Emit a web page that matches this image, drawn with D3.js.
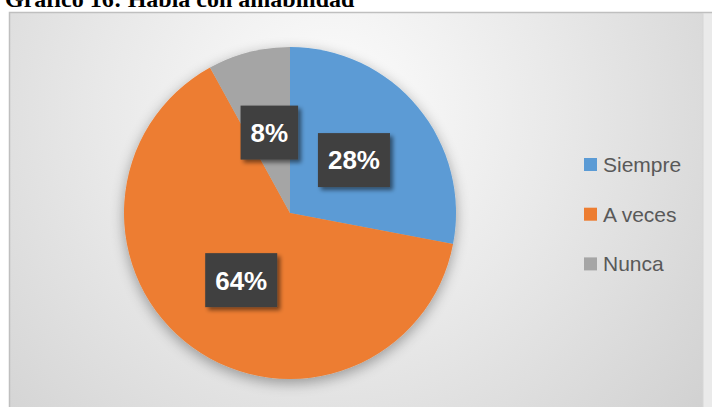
<!DOCTYPE html>
<html>
<head>
<meta charset="utf-8">
<script src="https://cdn.jsdelivr.net/npm/d3@7"></script>
<style>
  body { margin: 0; background: #fff; }
  svg { display: block; }
</style>
</head>
<body>
<svg width="712" height="407"></svg>
<script>
var categories = ['Siempre', 'A veces', 'Nunca'];
var values = [28, 64, 8];
var colors = ['#5B9BD5', '#ED7D31', '#A5A5A5'];
var title = 'Gráfico 16: Habla con amabilidad';

var svg = d3.select('svg');
var defs = svg.append('defs');

var grad = defs.append('radialGradient')
  .attr('id', 'bg')
  .attr('gradientUnits', 'userSpaceOnUse')
  .attr('cx', 330).attr('cy', 110).attr('r', 500);
grad.append('stop').attr('offset', 0).attr('stop-color', '#fdfdfd');
grad.append('stop').attr('offset', 0.45).attr('stop-color', '#e9e9e9');
grad.append('stop').attr('offset', 1).attr('stop-color', '#cfcfcf');

var pieShadow = defs.append('filter').attr('id', 'pieShadow')
  .attr('x', '-20%').attr('y', '-20%').attr('width', '140%').attr('height', '140%');
pieShadow.append('feGaussianBlur').attr('in', 'SourceAlpha').attr('stdDeviation', 7);
pieShadow.append('feOffset').attr('dx', 0).attr('dy', 4).attr('result', 'b');
pieShadow.append('feComponentTransfer').append('feFuncA').attr('type', 'linear').attr('slope', 0.35);
var m1 = pieShadow.append('feMerge');
m1.append('feMergeNode');
m1.append('feMergeNode').attr('in', 'SourceGraphic');

var boxShadow = defs.append('filter').attr('id', 'boxShadow')
  .attr('x', '-20%').attr('y', '-20%').attr('width', '150%').attr('height', '150%');
boxShadow.append('feGaussianBlur').attr('in', 'SourceAlpha').attr('stdDeviation', 2);
boxShadow.append('feOffset').attr('dx', 3).attr('dy', 3);
boxShadow.append('feComponentTransfer').append('feFuncA').attr('type', 'linear').attr('slope', 0.5);
var m2 = boxShadow.append('feMerge');
m2.append('feMergeNode');
m2.append('feMergeNode').attr('in', 'SourceGraphic');

// chart area
svg.append('rect')
  .attr('x', 703).attr('y', 12.5).attr('width', 20).attr('height', 420)
  .attr('fill', '#eaeaea');
svg.append('rect')
  .attr('x', 9.5).attr('y', 12.5).attr('width', 693.5).attr('height', 420)
  .attr('fill', 'url(#bg)');
svg.append('path')
  .attr('d', 'M9.5,420V12.5H712')
  .attr('fill', 'none')
  .attr('stroke', '#bfbfbf').attr('stroke-width', 1.5);
svg.append('line')
  .attr('x1', 703).attr('x2', 703).attr('y1', 13).attr('y2', 407)
  .attr('stroke', '#d6d6d6').attr('stroke-width', 1);

// title, cut off at the top
svg.append('text')
  .attr('x', 5).attr('y', 7)
  .attr('font-family', '"Liberation Serif", "Times New Roman", serif')
  .attr('font-weight', 'bold')
  .attr('font-size', 24)
  .attr('fill', '#000')
  .text(title);

var cx = 290, cy = 213, R = 166;

var pie = d3.pie().sort(null).value(function (d) { return d; });
var arcs = pie(values);
var arc = d3.arc().innerRadius(0).outerRadius(R);

var g = svg.append('g').attr('transform', 'translate(' + cx + ',' + cy + ')');

g.append('g')
  .attr('filter', 'url(#pieShadow)')
  .selectAll('path')
  .data(arcs)
  .enter()
  .append('path')
  .attr('d', arc)
  .attr('fill', function (d, i) { return colors[i]; });

// data labels
var labels = g.selectAll('g.lbl')
  .data(arcs)
  .enter()
  .append('g')
  .attr('class', 'lbl')
  .attr('transform', function (d) {
    var c = arc.centroid(d);
    return 'translate(' + c[0] + ',' + c[1] + ')';
  });

labels.each(function (d) {
  var sel = d3.select(this);
  var rect = sel.append('rect').attr('fill', '#404040').attr('filter', 'url(#boxShadow)');
  var t = sel.append('text')
    .attr('text-anchor', 'middle')
    .attr('dy', '0.36em')
    .attr('font-family', '"Liberation Sans", Arial, sans-serif')
    .attr('font-weight', 'bold')
    .attr('font-size', 26)
    .attr('fill', '#fff')
    .text(d.data + '%');
  var w = t.node().getComputedTextLength() + 20;
  rect.attr('x', -w / 2).attr('y', -27).attr('width', w).attr('height', 54);
});

// legend
var legend = svg.append('g').attr('transform', 'translate(584,158)');
var item = legend.selectAll('g')
  .data(categories)
  .enter()
  .append('g')
  .attr('transform', function (d, i) { return 'translate(0,' + (i * 49.7) + ')'; });

item.append('rect')
  .attr('width', 13).attr('height', 13)
  .attr('fill', function (d, i) { return colors[i]; });

item.append('text')
  .attr('x', 19).attr('y', 14)
  .attr('font-family', '"Liberation Sans", Arial, sans-serif')
  .attr('font-size', 21)
  .attr('fill', '#595959')
  .text(function (d) { return d; });
</script>
</body>
</html>
